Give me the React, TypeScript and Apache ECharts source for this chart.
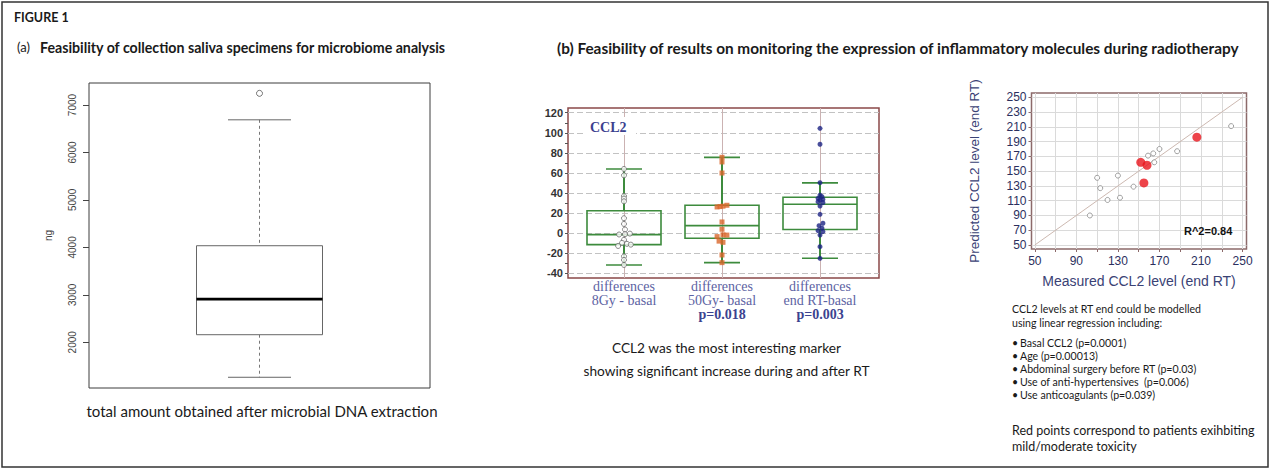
import { useEffect, useRef } from 'react';
import * as echarts from 'echarts';

// ---------- Panel (a): total DNA amount (ng) ----------
const dnaTicks = [2000, 3000, 4000, 5000, 6000, 7000];
const dnaBoxStats = [1263, 2160, 2910, 4035, 6688]; // min, Q1, median, Q3, max
const dnaOutliers = [7246];

// ---------- Panel (b) left: CCL2 differences ----------
const ccl2LabelTicks = [-40, -20, 0, 20, 40, 60, 80, 100, 120];
const ccl2MinorTicks = [-40, -30, -20, -10, 0, 10, 20, 30, 40, 50, 60, 70, 80, 90, 100, 110, 120];
const ccl2GroupLine1 = ['differences', 'differences', 'differences'];
const ccl2GroupLine2 = ['8Gy - basal', '50Gy- basal', 'end RT-basal'];
const ccl2PValues = ['', 'p=0.018', 'p=0.003'];
// min, Q1, median, Q3, max
const ccl2Box = [
  [-31.5, -11.3, -1.3, 22.5, 64],
  [-29.2, -5, 7.6, 27.9, 75.6],
  [-24.9, 3.8, 28.9, 35.8, 50.2],
];
// [horizontal offset within group, value]
const ccl2Diff8Gy = [
  [0, 64], [0, 57.7], [0, 37], [0, 34.5], [0, 31.8], [0, 15], [0, 9.3], [0.01, 3.8],
  [-0.05, -1.2], [0.01, -0.9], [0.06, -0.3], [0, -6.5], [-0.02, -9.5], [0.03, -10.5],
  [0.07, -11.3], [-0.06, -12.6], [0, -23], [0, -26.5], [0, -31.5],
];
const ccl2Diff50Gy = [
  [0, 75.6], [0, 71], [0, 60], [-0.05, 26.2], [-0.02, 26.6], [0.01, 27], [0.05, 27.9],
  [0, 11.3], [0, 4], [-0.05, -3.3], [0.01, -1.5], [0.05, -1.8], [-0.03, -7.8], [0.01, -9],
  [0, -21.6], [0, -29.2],
];
const ccl2DiffEndRT = [
  [0, 104.5], [0, 88.6], [0, 50.4], [0, 38], [0.02, 36.5], [-0.02, 34.8], [0.03, 33.8],
  [0, 33], [-0.02, 31.5], [0.03, 30.5], [0, 27.2], [0, 18.9], [0.03, 10], [-0.01, 7.6],
  [0.02, 5], [-0.02, 2.7], [0.03, 1.7], [0, -1.7], [0, -13.3], [0, -24.9],
];

// ---------- Panel (b) right: measured vs predicted ----------
const rtTicks = [50, 70, 90, 110, 130, 150, 170, 190, 210, 230, 250];
const rtXLabels = [50, 90, 130, 170, 210, 250];
const rtIdentity = [[50, 50], [250, 250]];
const rtOther = [
  [103, 90], [110, 141], [113, 127], [120, 111], [130, 144], [132, 114], [145, 129],
  [159, 171], [164, 174], [165, 162], [170, 180], [187, 177], [239, 211],
];
const rtToxic = [[152, 162], [158, 158], [155, 134], [206, 196]];

const bulletItems = [
  'Basal CCL2 (p=0.0001)',
  'Age (p=0.00013)',
  'Abdominal surgery before RT (p=0.03)',
  'Use of anti-hypertensives  (p=0.006)',
  'Use anticoagulants (p=0.039)',
];

const SANS = 'Lato';
const ARIAL = 'Liberation Sans';
const SERIF = 'Liberation Serif';

function renderRBox(_params: any, api: any) {
  const x = api.value(0);
  const lo = api.coord([x, api.value(1)]);
  const q1 = api.coord([x, api.value(2)]);
  const med = api.coord([x, api.value(3)]);
  const q3 = api.coord([x, api.value(4)]);
  const hi = api.coord([x, api.value(5)]);
  const cx = lo[0];
  const hb = 63;
  const hc = 31.5;
  const dashed = { stroke: '#777', lineWidth: 1, lineDash: [3, 3] };
  const solid = { stroke: '#666', lineWidth: 1 };
  return {
    type: 'group',
    children: [
      { type: 'line', shape: { x1: cx, y1: hi[1], x2: cx, y2: q3[1] }, style: dashed },
      { type: 'line', shape: { x1: cx, y1: q1[1], x2: cx, y2: lo[1] }, style: dashed },
      { type: 'line', shape: { x1: cx - hc, y1: hi[1], x2: cx + hc, y2: hi[1] }, style: solid },
      { type: 'line', shape: { x1: cx - hc, y1: lo[1], x2: cx + hc, y2: lo[1] }, style: solid },
      { type: 'rect', shape: { x: cx - hb, y: q3[1], width: hb * 2, height: q1[1] - q3[1] }, style: { fill: '#fff', stroke: '#666', lineWidth: 1 } },
      { type: 'line', shape: { x1: cx - hb, y1: med[1], x2: cx + hb, y2: med[1] }, style: { stroke: '#000', lineWidth: 2.6 } },
    ],
  };
}

function renderMedBox(_params: any, api: any) {
  const x = api.value(0);
  const lo = api.coord([x, api.value(1)]);
  const q1 = api.coord([x, api.value(2)]);
  const med = api.coord([x, api.value(3)]);
  const q3 = api.coord([x, api.value(4)]);
  const hi = api.coord([x, api.value(5)]);
  const cx = lo[0];
  const hb = 37;
  const hc = 18;
  const green = '#3d8b3d';
  const st = { stroke: green, lineWidth: 1.6 };
  return {
    type: 'group',
    children: [
      { type: 'line', shape: { x1: cx, y1: hi[1], x2: cx, y2: q3[1] }, style: { stroke: green, lineWidth: 2 } },
      { type: 'line', shape: { x1: cx, y1: q1[1], x2: cx, y2: lo[1] }, style: { stroke: green, lineWidth: 2 } },
      { type: 'line', shape: { x1: cx - hc, y1: hi[1], x2: cx + hc, y2: hi[1] }, style: st },
      { type: 'line', shape: { x1: cx - hc, y1: lo[1], x2: cx + hc, y2: lo[1] }, style: st },
      { type: 'rect', shape: { x: cx - hb, y: q3[1], width: hb * 2, height: q1[1] - q3[1] }, style: { fill: 'none', stroke: green, lineWidth: 1.6 } },
      { type: 'line', shape: { x1: cx - hb, y1: med[1], x2: cx + hb, y2: med[1] }, style: st },
    ],
  };
}

function txt(x: number, y: number, text: string, font: string, align = 'left', fill = '#1a1a1a') {
  return {
    type: 'text',
    x,
    y,
    z: 20,
    style: { text, font, fill, textAlign: align, textVerticalAlign: 'middle' },
  };
}

export default function App() {
  const ref = useRef<HTMLDivElement>(null);

  useEffect(() => {
    if (!ref.current) return;
    const chart = echarts.init(ref.current, null, { renderer: 'svg' });

    const bulletTops = [343.3, 355.6, 368.6, 381.7, 394.8];
    const small = `10.6px "${SANS}"`;

    const option: any = {
      animation: false,
      backgroundColor: '#fff',
      grid: [
        { left: 89, top: 83, width: 341, height: 305, show: true, borderColor: '#3c3c3c', borderWidth: 1, backgroundColor: 'transparent' },
        { left: 568, top: 108, width: 311, height: 170, show: true, borderColor: '#8a4848', borderWidth: 1.5, backgroundColor: 'transparent' },
        { left: 1031.5, top: 93, width: 215, height: 156, show: true, borderColor: '#8c6a6a', borderWidth: 1.5, backgroundColor: 'transparent' },
      ],
      xAxis: [
        { gridIndex: 0, type: 'value', min: 0, max: 1, show: false },
        {
          gridIndex: 1,
          type: 'value',
          min: 0.4286,
          max: 3.602,
          axisLine: { show: false },
          axisTick: { show: true, customValues: [1, 2, 3], length: 3, lineStyle: { color: '#8a4848' } },
          splitLine: { show: true, lineStyle: { color: '#cbb2b2', width: 1 } },
          axisLabel: {
            customValues: [1, 2, 3],
            margin: 2,
            formatter: (v: number) => {
              const i = Math.round(v) - 1;
              if (Math.abs(v - Math.round(v)) > 1e-6 || i < 0 || i > 2) return '';
              let s = `{a|${ccl2GroupLine1[i]}}\n{a|${ccl2GroupLine2[i]}}`;
              if (ccl2PValues[i]) s += `\n{b|${ccl2PValues[i]}}`;
              return s;
            },
            rich: {
              a: { fontFamily: SERIF, fontSize: 14, color: '#5d63a3', lineHeight: 13.6 },
              b: { fontFamily: SERIF, fontSize: 14, fontWeight: 'bold', color: '#3b4290', lineHeight: 13.6 },
            },
          },
        },
        {
          gridIndex: 2,
          type: 'value',
          min: 46.8,
          max: 253.8,
          axisLine: { show: false },
          axisTick: { show: true, customValues: rtTicks, length: 3, lineStyle: { color: '#8c6a6a' } },
          splitLine: { show: true, lineStyle: { color: '#dadada', width: 1 } },
          axisLabel: { customValues: rtXLabels, margin: 6, fontSize: 12, fontFamily: ARIAL, color: '#2b2f5e' },
          name: 'Measured CCL2 level (end RT)',
          nameLocation: 'middle',
          nameGap: 25,
          nameTextStyle: { fontSize: 14, fontFamily: ARIAL, color: '#3a4275' },
        },
      ],
      yAxis: [
        {
          gridIndex: 0,
          type: 'value',
          min: 1037,
          max: 7464,
          axisLine: { show: false },
          axisTick: { show: true, customValues: dnaTicks, length: 6, lineStyle: { color: '#444' } },
          axisLabel: {
            customValues: dnaTicks, rotate: 90, margin: 12, fontSize: 10, fontFamily: ARIAL, color: '#444',
            formatter: (v: number) => String(v),
          },
          splitLine: { show: false },
          name: 'ng',
          nameLocation: 'middle',
          nameGap: 36,
          nameRotate: 90,
          nameTextStyle: { fontSize: 10, fontFamily: ARIAL, color: '#444' },
        },
        {
          gridIndex: 1,
          type: 'value',
          min: -44.5,
          max: 124.7,
          axisLine: { show: false },
          axisTick: { show: true, customValues: ccl2MinorTicks, length: 3, lineStyle: { color: '#555' } },
          axisLabel: { customValues: ccl2LabelTicks, margin: 5, fontSize: 11, fontWeight: 'bold', fontFamily: ARIAL, color: '#333' },
          splitLine: { show: false },
        },
        {
          gridIndex: 1,
          type: 'value',
          min: -44.5,
          max: 124.7,
          axisLine: { show: false },
          axisTick: { show: false, customValues: ccl2LabelTicks },
          axisLabel: { show: false },
          splitLine: { show: true, lineStyle: { color: '#c2c2c2', width: 1, type: [6, 3] } },
        },
        {
          gridIndex: 2,
          type: 'value',
          min: 44.6,
          max: 255.8,
          axisLine: { show: false },
          axisTick: { show: true, customValues: rtTicks, length: 3, lineStyle: { color: '#8c6a6a' } },
          axisLabel: { customValues: rtTicks, margin: 5, fontSize: 12, fontFamily: ARIAL, color: '#2b2f5e' },
          splitLine: { show: true, lineStyle: { color: '#dadada', width: 1 } },
          name: 'Predicted CCL2 level (end RT)',
          nameLocation: 'middle',
          nameGap: 50,
          nameRotate: 90,
          nameTextStyle: { fontSize: 13.5, fontFamily: ARIAL, color: '#3a4275' },
        },
      ],
      series: [
        { type: 'custom', xAxisIndex: 0, yAxisIndex: 0, data: [[0.5, ...dnaBoxStats]], renderItem: renderRBox, z: 3 },
        {
          type: 'scatter', xAxisIndex: 0, yAxisIndex: 0, clip: false, z: 4,
          data: dnaOutliers.map((v) => [0.5, v]),
          symbol: 'circle', symbolSize: 6,
          itemStyle: { color: '#fff', borderColor: '#555', borderWidth: 1 },
        },
        { type: 'custom', xAxisIndex: 1, yAxisIndex: 1, data: ccl2Box.map((b, i) => [i + 1, ...b]), renderItem: renderMedBox, z: 3 },
        {
          type: 'scatter', xAxisIndex: 1, yAxisIndex: 1, z: 5,
          data: ccl2Diff8Gy.map(([dx, v]) => [1 + dx, v]),
          symbol: 'circle', symbolSize: 5,
          itemStyle: { color: '#fff', borderColor: '#6a6a6a', borderWidth: 1 },
        },
        {
          type: 'scatter', xAxisIndex: 1, yAxisIndex: 1, z: 5,
          data: ccl2Diff50Gy.map(([dx, v]) => [2 + dx, v]),
          symbol: 'rect', symbolSize: 5,
          itemStyle: { color: '#d9662a' },
        },
        {
          type: 'scatter', xAxisIndex: 1, yAxisIndex: 1, z: 5,
          data: ccl2DiffEndRT.map(([dx, v]) => [3 + dx, v]),
          symbol: 'circle', symbolSize: 5,
          itemStyle: { color: '#1c2383' },
        },
        {
          type: 'line', xAxisIndex: 2, yAxisIndex: 3, data: rtIdentity, symbol: 'none', z: 3,
          lineStyle: { color: '#cdb9b1', width: 1 },
        },
        {
          type: 'scatter', xAxisIndex: 2, yAxisIndex: 3, data: rtOther, z: 4,
          symbol: 'circle', symbolSize: 5,
          itemStyle: { color: '#fff', borderColor: '#7a7a7a', borderWidth: 0.9 },
        },
        {
          type: 'scatter', xAxisIndex: 2, yAxisIndex: 3, data: rtToxic, z: 5,
          symbol: 'circle', symbolSize: 9,
          itemStyle: { color: '#e8141c' },
        },
      ],
      graphic: {
        elements: [
          { type: 'rect', z: 0, shape: { x: 2, y: 2, width: 1266, height: 465 }, style: { fill: 'none', stroke: '#333', lineWidth: 1.5 } },
          { type: 'rect', z: 15, shape: { x: 584, y: 117, width: 52, height: 18 }, style: { fill: '#fff' } },
          txt(590, 127, 'CCL2', `bold 14px "${SERIF}"`, 'left', '#3b3f8f'),
          txt(14, 17.5, 'FIGURE 1', `bold 12.5px "${SANS}"`),
          txt(17, 47, '(a)', `13px "${SANS}"`),
          txt(40, 47, 'Feasibility of collection saliva specimens for microbiome analysis', `bold 14.2px "${SANS}"`),
          txt(557, 48, '(b) Feasibility of results on monitoring the expression of inflammatory molecules during radiotherapy', `bold 15.35px "${SANS}"`),
          txt(262, 411, 'total amount obtained after microbial DNA extraction', `15px "${SANS}"`, 'center'),
          txt(726.5, 347.7, 'CCL2 was the most interesting marker', `13.7px "${SANS}"`, 'center'),
          txt(726.5, 370, 'showing significant increase during and after RT', `13.7px "${SANS}"`, 'center'),
          txt(1184, 230.7, 'R^2=0.84', `bold 11px "${ARIAL}"`, 'left', '#111'),
          txt(1012, 309, 'CCL2 levels at RT end could be modelled', small),
          txt(1012, 323.3, 'using linear regression including:', small),
          ...bulletItems.map((_t, i) => txt(1012, bulletTops[i], '\u2022', small)),
          ...bulletItems.map((t, i) => txt(1020, bulletTops[i], t, small)),
          txt(1012, 430, 'Red points correspond to patients exihbiting', `12.5px "${SANS}"`),
          txt(1012, 446.7, 'mild/moderate toxicity', `12.5px "${SANS}"`),
        ],
      },
    };

    chart.setOption(option);
    return () => chart.dispose();
  }, []);

  return (
    <div
      ref={ref}
      style={{ position: 'absolute', left: 0, top: 0, width: 1271, height: 473, background: '#fff' }}
    />
  );
}
